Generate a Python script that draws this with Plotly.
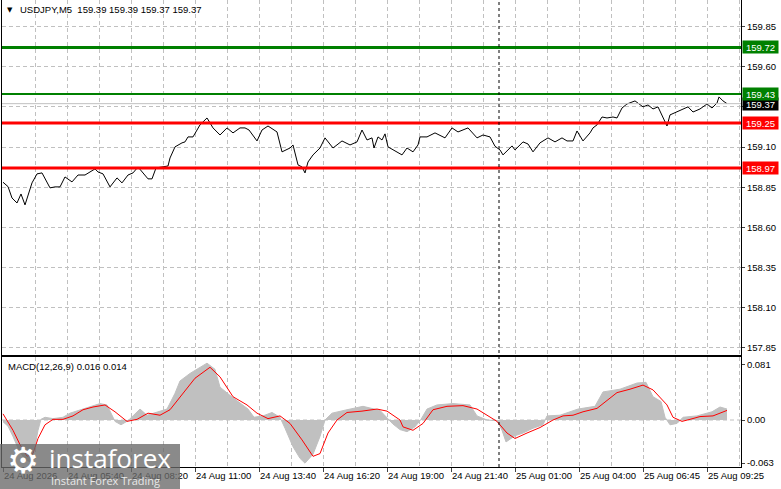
import plotly.graph_objects as go

W, H = 781, 489

# price line (bar index, close)
price_idx = [0, 5, 9, 14, 18, 22, 29, 34, 39, 47, 52, 57, 62, 69, 75, 82, 87, 92, 95, 100,
             107, 114, 119, 125, 130, 135, 145, 149, 153, 160, 165, 167, 172, 179, 182, 185, 190, 197, 204, 210,
             217, 224, 230, 237, 242, 246, 250, 254, 259, 265, 274, 279, 287, 290, 295, 299, 302, 305, 310, 317,
             322, 330, 339, 347, 354, 359, 364, 369, 371, 375, 379, 382, 385, 390, 399, 404, 410, 415, 417, 424,
             432, 442, 449, 455, 465, 474, 480, 487, 492, 497, 500, 509, 512, 520, 525, 530, 537, 545, 552, 559,
             564, 570, 574, 580, 587, 590, 594, 599, 604, 610, 614, 619, 624, 632, 640, 645, 650, 655, 660, 664,
             667, 674, 680, 685, 690, 697, 704, 709, 714, 716, 720, 724]
price = [158.881, 158.854, 158.783, 158.752, 158.808, 158.740, 158.877, 158.933, 158.939, 158.846,
         158.852, 158.852, 158.914, 158.883, 158.926, 158.926, 158.945, 158.964, 158.945, 158.933,
         158.852, 158.908, 158.877, 158.926, 158.939, 158.976, 158.902, 158.902, 158.970, 158.976,
         158.982, 159.032, 159.101, 159.126, 159.132, 159.163, 159.163, 159.238, 159.281, 159.219,
         159.175, 159.219, 159.188, 159.219, 159.219, 159.206, 159.170, 159.138, 159.206, 159.231,
         159.194, 159.070, 159.094, 159.113, 158.989, 158.976, 158.939, 159.007, 159.051, 159.094,
         159.157, 159.094, 159.138, 159.113, 159.132, 159.206, 159.144, 159.157, 159.094, 159.163,
         159.144, 159.182, 159.101, 159.082, 159.051, 159.094, 159.070, 159.113, 159.163, 159.163,
         159.188, 159.157, 159.219, 159.194, 159.219, 159.157, 159.175, 159.163, 159.105, 159.082,
         159.051, 159.107, 159.082, 159.132, 159.119, 159.070, 159.126, 159.157, 159.132, 159.157,
         159.138, 159.138, 159.200, 159.138, 159.188, 159.219, 159.238, 159.287, 159.281, 159.287,
         159.281, 159.343, 159.368, 159.387, 159.350, 159.362, 159.337, 159.350, 159.281, 159.231,
         159.300, 159.318, 159.337, 159.350, 159.318, 159.337, 159.368, 159.343, 159.374, 159.412,
         159.387, 159.370]

# MACD histogram
hist_idx = [0, 5, 10, 15, 22, 27, 32, 35, 38, 42, 50, 60, 67, 77, 87, 97, 104, 108, 112, 118,
            125, 130, 137, 144, 154, 164, 172, 177, 187, 197, 204, 212, 217, 227, 239, 245, 251, 260, 269, 277,
            282, 290, 297, 302, 310, 317, 322, 329, 344, 360, 377, 390, 397, 404, 412, 418, 424, 434, 450, 467,
            474, 484, 494, 499, 503, 512, 520, 530, 540, 544, 557, 575, 592, 600, 617, 634, 643, 650, 658, 662,
            667, 674, 680, 694, 709, 717, 724]
hist = [-0.0025, -0.009, -0.024, -0.041, -0.058, -0.061, -0.039, -0.015, 0.001, 0.004,
        0.002, 0.004, 0.010, 0.015, 0.020, 0.024, 0.022, 0.010, -0.002, -0.007,
        -0.001, 0.006, 0.016, 0.007, 0.011, 0.016, 0.039, 0.057, 0.068, 0.077,
        0.083, 0.074, 0.048, 0.036, 0.023, 0.016, 0.004, 0.006, 0.011, 0.004,
        -0.012, -0.039, -0.056, -0.063, -0.050, -0.024, 0.000, 0.010, 0.015, 0.020,
        0.014, -0.006, -0.014, -0.017, -0.010, 0.001, 0.016, 0.022, 0.024, 0.022,
        0.006, 0.000, -0.001, -0.015, -0.032, -0.023, -0.019, -0.012, -0.007, 0.006,
        0.007, 0.016, 0.020, 0.041, 0.045, 0.054, 0.055, 0.034, 0.027, 0.004,
        -0.007, -0.005, 0.004, 0.006, 0.012, 0.019, 0.016]

# MACD signal
sig_idx = [0, 10, 17, 24, 30, 35, 42, 50, 60, 70, 80, 90, 102, 112, 124, 134, 145, 157, 167, 180,
           192, 207, 217, 230, 244, 254, 265, 277, 287, 299, 310, 317, 325, 334, 344, 359, 374, 384, 397, 400,
           410, 420, 430, 444, 460, 474, 484, 494, 504, 512, 524, 537, 550, 560, 570, 580, 594, 607, 614, 627,
           640, 650, 664, 670, 679, 687, 697, 710, 724]
signal = [0.009, -0.015, -0.036, -0.053, -0.049, -0.027, -0.007, 0.001, 0.001, 0.006,
          0.015, 0.019, 0.022, 0.012, -0.002, 0.001, 0.010, 0.007, 0.015, 0.039,
          0.061, 0.077, 0.063, 0.034, 0.022, 0.010, 0.002, 0.006, -0.005, -0.029,
          -0.053, -0.049, -0.019, 0.000, 0.011, 0.013, 0.016, 0.013, 0.000, -0.010,
          -0.015, -0.005, 0.015, 0.020, 0.021, 0.016, 0.007, -0.002, -0.019, -0.027,
          -0.019, -0.011, 0.000, 0.006, 0.007, 0.012, 0.017, 0.032, 0.040, 0.045,
          0.051, 0.044, 0.022, 0.004, -0.002, 0.001, 0.005, 0.006, 0.014]

# levels
green_levels = [159.72, 159.43]
red_levels = [159.25, 158.97]
last_price = 159.37
day_sep = 496

price_ticks = [157.85, 158.10, 158.35, 158.60, 158.85, 159.10, 159.35, 159.60, 159.85]
time_tick_idx = [0, 64, 128, 192, 256, 320, 384, 448, 512, 576, 640, 704]
time_labels = ["24 Aug 2026", "24 Aug 05:40", "24 Aug 08:20", "24 Aug 11:00", "24 Aug 13:40",
               "24 Aug 16:20", "24 Aug 19:00", "24 Aug 21:40", "25 Aug 01:00", "25 Aug 04:00",
               "25 Aug 06:45", "25 Aug 09:25"]
grid_idx = list(range(32, 737, 32))
macd_ticks = [0.081, 0.0, -0.063]
macd_labels = ["0.081", "0.00", "-0.063"]

FONT = "Liberation Sans"
GRID = "#c0c0c0"
GDASH = "4px,3px"


def py(p):
    return 1 - p / H


xdom = [2 / W, 741 / W]

fig = go.Figure()
fig.add_trace(go.Scatter(x=hist_idx, y=hist, mode="lines", fill="tozeroy",
                         fillcolor="#c0c0c0", line=dict(color="#c0c0c0", width=1),
                         xaxis="x2", yaxis="y2", hoverinfo="skip"))
fig.add_trace(go.Scatter(x=sig_idx, y=signal, mode="lines", line=dict(color="#ff0000", width=1),
                         xaxis="x2", yaxis="y2", hoverinfo="skip"))
fig.add_trace(go.Scatter(x=price_idx, y=price, mode="lines", line=dict(color="black", width=1),
                         hoverinfo="skip"))

axis_common = dict(showline=True, linecolor="black", linewidth=1, mirror=True,
                   zeroline=False, automargin=False,
                   tickfont=dict(family=FONT, size=9.5, color="black"))

fig.update_layout(
    width=W, height=H, margin=dict(l=0, r=0, t=0, b=0, autoexpand=False),
    paper_bgcolor="white", plot_bgcolor="white", showlegend=False,
    xaxis=dict(domain=xdom, range=[-1, 738], tickvals=grid_idx, showticklabels=False,
               showgrid=True, gridcolor=GRID, griddash=GDASH, ticks="", anchor="y", **axis_common),
    yaxis=dict(domain=[py(355), py(0)], range=[157.806, 160.015], side="right",
               tickvals=price_ticks, ticktext=[f"{v:.2f}" for v in price_ticks],
               showgrid=True, gridcolor=GRID, griddash=GDASH, ticks="outside", ticklen=3,
               anchor="x", **axis_common),
    xaxis2=dict(domain=xdom, range=[-1, 738], tickvals=time_tick_idx, ticktext=time_labels,
                ticklabelposition="outside right", ticks="outside", ticklen=4, tickangle=0,
                showgrid=True, gridcolor=GRID, griddash=GDASH,
                minor=dict(tickvals=grid_idx, showgrid=True, gridcolor=GRID, griddash=GDASH, ticks=""),
                anchor="y2", **axis_common),
    yaxis2=dict(domain=[py(467), py(357)], range=[-0.0686, 0.092], side="right",
                tickvals=macd_ticks, ticktext=macd_labels, showgrid=False,
                ticks="outside", ticklen=3, anchor="x2", **axis_common),
)

shapes = []
shapes.append(dict(type="line", xref="x2", yref="y2", x0=-1, x1=738, y0=0, y1=0,
                   line=dict(color=GRID, width=1, dash=GDASH), layer="below"))
shapes.append(dict(type="line", xref="x domain", yref="y", x0=0, x1=1, y0=last_price, y1=last_price,
                   line=dict(color="#c0c0c0", width=1)))
for i, lv in enumerate(green_levels):
    shapes.append(dict(type="line", xref="x domain", yref="y", x0=0, x1=1, y0=lv, y1=lv,
                       line=dict(color="#008000", width=3 if i == 0 else 2)))
for lv in red_levels:
    shapes.append(dict(type="line", xref="x domain", yref="y", x0=0, x1=1, y0=lv, y1=lv,
                       line=dict(color="#ff0000", width=3)))
shapes.append(dict(type="line", xref="x", yref="paper", x0=day_sep, x1=day_sep, y0=py(467), y1=py(2),
                   line=dict(color="black", width=1, dash="3px,3px")))
# watermark box
shapes.append(dict(type="rect", xref="paper", yref="paper", x0=0, x1=180 / W, y0=0, y1=py(444),
                   fillcolor="rgba(105,105,105,0.78)", line=dict(width=0), layer="above"))
fig.update_layout(shapes=shapes)

ann = []
# price boxes on the right scale; last price first so the 159.43 box sits on top of it
boxes = [(last_price, "black"), (green_levels[0], "#008000"), (green_levels[1], "#008000"),
         (red_levels[0], "#ff0000"), (red_levels[1], "#ff0000")]
for lv, col in boxes:
    ann.append(dict(xref="paper", yref="y", x=742 / W, y=lv, xanchor="left", yanchor="middle",
                    text=f"{lv:.2f}", showarrow=False, bgcolor=col, width=35, height=12, borderpad=0,
                    font=dict(family=FONT, size=9.5, color="white")))
ann.append(dict(xref="paper", yref="paper", x=5 / W, y=py(10), xanchor="left", yanchor="middle",
                text="▼", showarrow=False, font=dict(family="DejaVu Sans", size=7, color="black")))
ann.append(dict(xref="paper", yref="paper", x=18 / W, y=py(10), xanchor="left", yanchor="middle",
                text="USDJPY,M5  159.39 159.39 159.37 159.37", showarrow=False,
                font=dict(family=FONT, size=9.5, color="black")))
ann.append(dict(xref="paper", yref="paper", x=6 / W, y=py(366), xanchor="left", yanchor="middle",
                text="MACD(12,26,9) 0.016 0.014", showarrow=False,
                font=dict(family=FONT, size=9.5, color="black")))
ann.append(dict(xref="paper", yref="paper", x=5 / W, y=py(460), xanchor="left", yanchor="middle",
                text="⚙", showarrow=False, font=dict(family="DejaVu Sans", size=36, color="white")))
ann.append(dict(xref="paper", yref="paper", x=47 / W, y=py(458), xanchor="left", yanchor="middle",
                text="instaforex", showarrow=False, font=dict(family="Open Sans", size=26, color="white")))
ann.append(dict(xref="paper", yref="paper", x=49 / W, y=py(480), xanchor="left", yanchor="middle",
                text="Instant Forex Trading", showarrow=False,
                font=dict(family="Open Sans", size=11, color="#e8e8e8")))
fig.update_layout(annotations=ann)

# page body has a default 8px margin; drop it so the figure sits at the window origin
fig.write_html("out.html", config={"displayModeBar": False},
               post_script="document.body.style.margin='0';")
